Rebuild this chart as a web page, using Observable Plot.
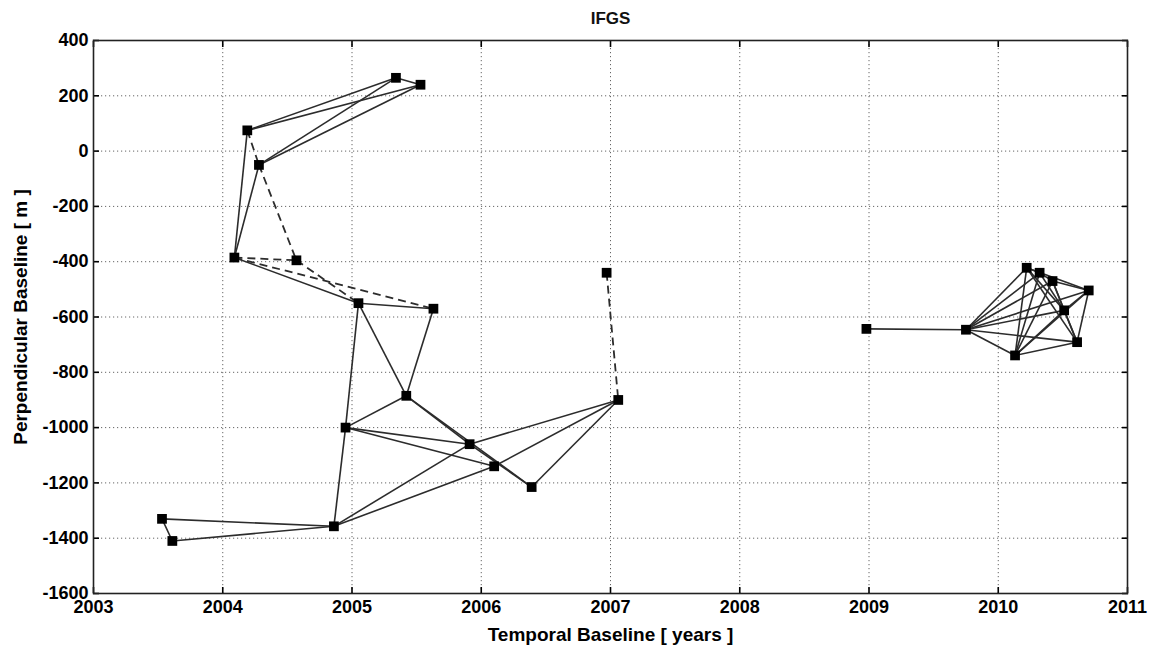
<!DOCTYPE html>
<html>
<head>
<meta charset="utf-8">
<script src="https://cdn.jsdelivr.net/npm/d3@7"></script>
<script src="https://cdn.jsdelivr.net/npm/@observablehq/plot@0.6"></script>
<style>
  html, body { margin: 0; padding: 0; background: #fff; }
  svg { font-family: "Liberation Sans", Arial, sans-serif; }
</style>
</head>
<body>
<div id="chart"></div>
<script>
// Acquisitions: temporal (decimal year) and perpendicular baseline (m)
const acqYear = [
  2005.34, 2005.53, 2004.19, 2004.28, 2004.09, 2004.57, 2005.05, 2005.63,
  2006.97, 2005.42, 2007.06, 2004.95, 2005.91, 2006.10, 2006.39,
  2003.53, 2003.61, 2004.86,
  2008.98, 2009.75, 2010.22, 2010.32, 2010.42, 2010.70, 2010.51, 2010.61, 2010.13
];
const acqBaseline = [
  265, 240, 75, -50, -385, -395, -550, -570,
  -440, -885, -900, -1000, -1060, -1140, -1215,
  -1330, -1410, -1357,
  -643, -646, -422, -440, -470, -504, -576, -691, -739
];
// Interferogram pairs (indices into the acquisition arrays)
const solidPairs = [
  [0,1],[2,0],[2,1],[3,0],[3,1],[2,4],[3,4],[4,6],[6,7],
  [6,9],[7,9],[6,11],[11,9],[11,12],[11,13],[9,12],[9,14],[12,14],
  [10,12],[10,13],[10,14],[17,12],[17,13],[11,17],
  [15,16],[15,17],[16,17],
  [18,19],
  [19,20],[19,21],[19,22],[19,23],[19,24],[19,25],[19,26],
  [20,21],[21,22],[22,23],[20,23],
  [20,24],[21,24],[22,24],[24,23],
  [20,25],[22,25],[24,25],[23,25],
  [26,20],[26,21],[26,22],[26,24],[26,23],[26,25]
];
const dashedPairs = [
  [2,3],[3,5],[4,5],[4,7],[5,6],[8,10]
];
// Axis ticks
const xTicks = [2003, 2004, 2005, 2006, 2007, 2008, 2009, 2010, 2011];
const yTicks = [400, 200, 0, -200, -400, -600, -800, -1000, -1200, -1400, -1600];

const points = acqYear.map((x, i) => ({x, y: acqBaseline[i]}));
const toSeg = ([a, b]) => ({x1: acqYear[a], y1: acqBaseline[a], x2: acqYear[b], y2: acqBaseline[b]});
const solidSegs = solidPairs.map(toSeg);
const dashedSegs = dashedPairs.map(toSeg);

const font = "Liberation Sans, Arial, sans-serif";
const plain = d => String(d);

const chart = Plot.plot({
  width: 1153,
  height: 645,
  marginLeft: 93,
  marginRight: 26,
  marginTop: 40,
  marginBottom: 52,
  style: {fontFamily: font, background: "#fff", color: "#000"},
  x: {domain: [2003, 2011]},
  y: {domain: [-1600, 400]},
  marks: [
    Plot.gridX(xTicks.slice(1, -1), {stroke: "#666", strokeOpacity: 1, strokeWidth: 1, strokeDasharray: "1.2,2.8"}),
    Plot.gridY(yTicks.slice(1, -1), {stroke: "#666", strokeOpacity: 1, strokeWidth: 1, strokeDasharray: "1.2,2.8"}),
    // inward ticks on all four sides
    Plot.axisX(xTicks, {anchor: "bottom", tickSize: -6, tickFormat: () => "", strokeWidth: 1.6, label: null}),
    Plot.axisX(xTicks, {anchor: "top", tickSize: -6, tickFormat: () => "", strokeWidth: 1.6, label: null}),
    Plot.axisY(yTicks, {anchor: "left", tickSize: -6, tickFormat: () => "", strokeWidth: 1.6, label: null}),
    Plot.axisY(yTicks, {anchor: "right", tickSize: -6, tickFormat: () => "", strokeWidth: 1.6, label: null}),
    // tick labels
    Plot.axisX(xTicks, {anchor: "bottom", tickSize: 0, tickPadding: 7, tickFormat: plain, fontSize: 18, fontWeight: "bold", label: null}),
    Plot.axisY(yTicks, {anchor: "left", tickSize: 0, tickPadding: 5, tickFormat: plain, fontSize: 18, fontWeight: "bold", label: null}),
    Plot.frame({stroke: "#222", strokeWidth: 1.6}),
    // interferogram links
    Plot.link(solidSegs, {x1: "x1", y1: "y1", x2: "x2", y2: "y2", stroke: "#2c2c2c", strokeWidth: 1.6}),
    Plot.link(dashedSegs, {x1: "x1", y1: "y1", x2: "x2", y2: "y2", stroke: "#2c2c2c", strokeWidth: 1.8, strokeDasharray: "8,5"}),
    Plot.dot(points, {x: "x", y: "y", symbol: "square", r: 5.5, fill: "#000", stroke: "none"}),
    // title and axis labels
    Plot.text(["IFGS"], {frameAnchor: "top", dy: -22, lineAnchor: "middle", fontSize: 17, fontWeight: "bold", fill: "#111"}),
    Plot.text(["Temporal Baseline [ years ]"], {frameAnchor: "bottom", dy: 41, lineAnchor: "middle", fontSize: 19, fontWeight: "bold", fill: "#000"}),
    Plot.text(["Perpendicular Baseline [ m ]"], {frameAnchor: "left", dx: -73, rotate: -90, textAnchor: "middle", lineAnchor: "middle", fontSize: 19, fontWeight: "bold", fill: "#000"})
  ]
});
document.getElementById("chart").appendChild(chart);
</script>
</body>
</html>
